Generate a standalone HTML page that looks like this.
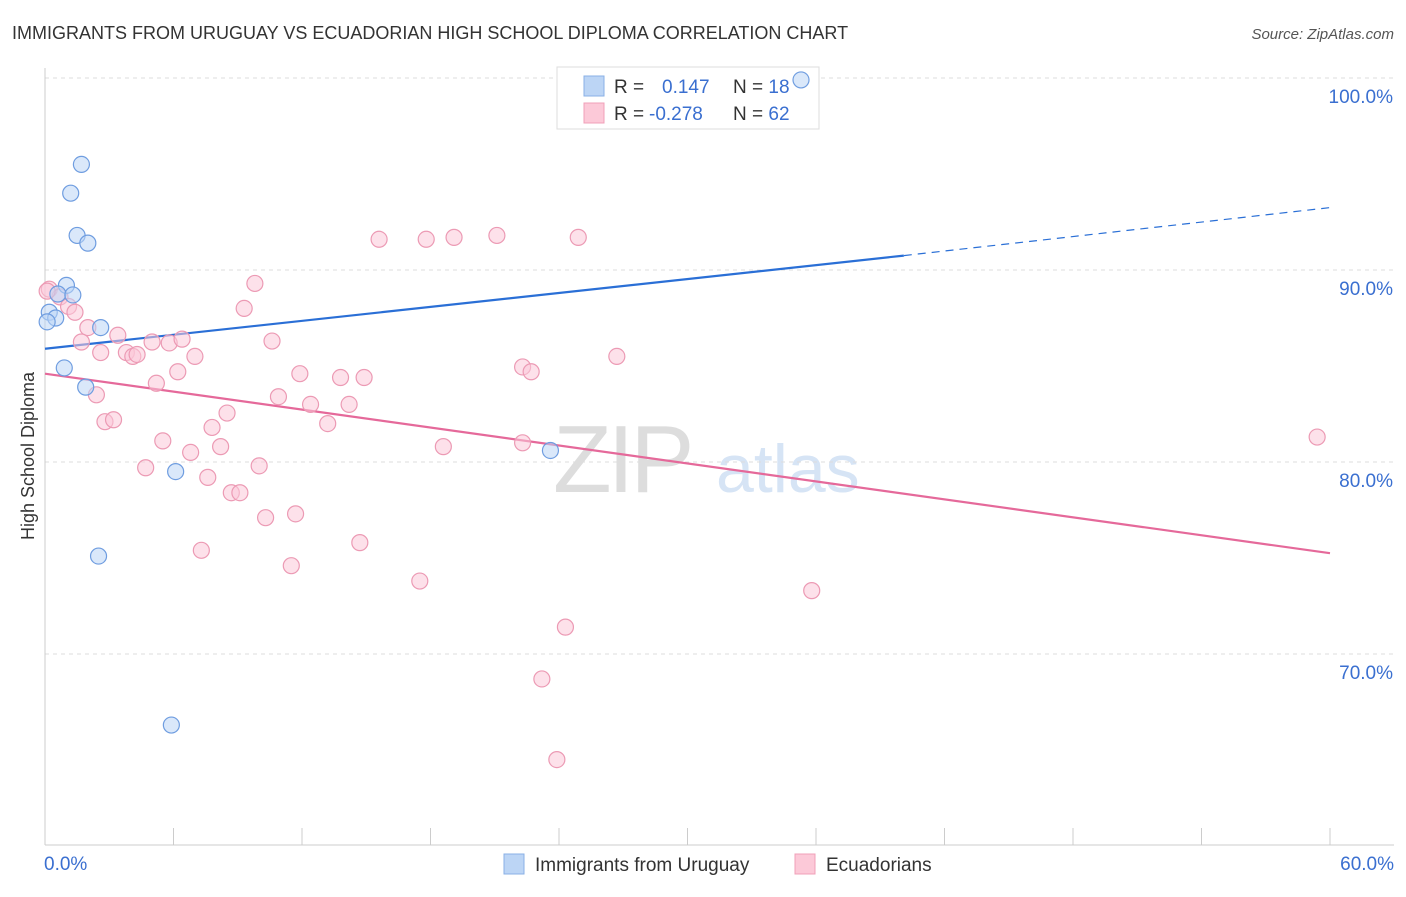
<!DOCTYPE html>
<html><head><meta charset="utf-8"><style>
body{margin:0;background:#fff;font-family:"Liberation Sans",sans-serif;}
svg text{font-family:"Liberation Sans",sans-serif;}
</style></head><body>
<svg id="chart" width="1406" height="892" viewBox="0 0 1406 892" xmlns="http://www.w3.org/2000/svg">
<text x="12" y="39" font-size="18" fill="#333">IMMIGRANTS FROM URUGUAY VS ECUADORIAN HIGH SCHOOL DIPLOMA CORRELATION CHART</text>
<text x="1394" y="39" font-size="15" fill="#555" text-anchor="end" font-style="italic">Source: ZipAtlas.com</text>
<text x="553" y="492" font-size="96" fill="#ddd" font-family="Liberation Serif" letter-spacing="-4">ZIP</text>
<text x="716" y="492" font-size="68" fill="#d6e4f5">atlas</text>
<g id="grid"></g>
<g id="axes"></g>
<g>
<rect x="557" y="67" width="262" height="62" fill="#fff" stroke="#ddd"/>
<rect x="584" y="76" width="20" height="20" fill="#bcd5f5" stroke="#8ab0e6"/>
<rect x="584" y="103" width="20" height="20" fill="#fcc9d8" stroke="#f0a0b8"/>
<text x="614" y="93" font-size="19" fill="#333">R = <tspan fill="#3a6fd0" x="662">0.147</tspan><tspan fill="#333" x="733">N = </tspan><tspan fill="#3a6fd0">18</tspan></text>
<text x="614" y="120" font-size="19" fill="#333">R = <tspan fill="#3a6fd0" x="649">-0.278</tspan><tspan fill="#333" x="733">N = </tspan><tspan fill="#3a6fd0">62</tspan></text>
</g>
<g id="lines"></g>
<g id="pts"></g>
<text transform="translate(34,456) rotate(-90)" font-size="18" fill="#333" text-anchor="middle">High School Diploma</text>
<g>
<rect x="504" y="854" width="20" height="20" fill="#bcd5f5" stroke="#8ab0e6"/>
<text x="535" y="871" font-size="19" fill="#333">Immigrants from Uruguay</text>
<rect x="795" y="854" width="20" height="20" fill="#fcc9d8" stroke="#f0a0b8"/>
<text x="826" y="871" font-size="19" fill="#333">Ecuadorians</text>
</g>
</svg>
<script>
const blueX=[35.3,1.7,1.2,1.5,2.0,1.0,0.6,1.3,0.2,0.5,0.1,2.6,0.9,1.9,6.1,23.6,2.5,5.9];
const blueY=[99.9,95.5,94.0,91.8,91.4,89.2,88.75,88.7,87.8,87.5,87.3,87.0,84.9,83.9,79.5,80.6,75.1,66.3];
const pinkX=[0.2,0.7,1.1,1.4,2.0,1.7,2.6,3.4,3.8,4.1,4.3,5.0,5.8,6.4,7.0,6.2,5.2,2.4,2.8,3.2,5.5,4.7,6.8,7.8,8.2,8.5,9.3,9.8,10.6,10.9,11.9,12.4,13.2,13.8,14.2,14.9,10.0,7.6,8.7,9.1,10.3,11.7,7.3,11.5,14.7,15.6,17.8,19.1,21.1,24.9,22.3,22.7,26.7,18.6,22.3,17.5,24.3,23.2,23.9,35.8,59.4,0.1];
const pinkY=[89.0,88.6,88.1,87.8,87.0,86.25,85.7,86.6,85.7,85.5,85.6,86.25,86.2,86.4,85.5,84.7,84.1,83.5,82.1,82.2,81.1,79.7,80.5,81.8,80.8,82.55,88.0,89.3,86.3,83.4,84.6,83.0,82.0,84.4,83.0,84.4,79.8,79.2,78.4,78.4,77.1,77.3,75.4,74.6,75.8,91.6,91.6,91.7,91.8,91.7,84.95,84.7,85.5,80.8,81.0,73.8,71.4,68.7,64.5,73.3,81.3,88.9];
const yTicks=[100,90,80,70];
const yTickLabels=["100.0%","90.0%","80.0%","70.0%"];
const xTickLabels=["0.0%","60.0%"];
const blueLine=[[0,85.9],[40.1,90.75],[60,93.25]];
const pinkLine=[[0,84.6],[60,75.25]];
const NS="http://www.w3.org/2000/svg";
const X=v=>45+v*1285/60, Y=v=>78+(100-v)*19.2;
function mk(t,a,p){const e=document.createElementNS(NS,t);for(const k in a)e.setAttribute(k,a[k]);p.appendChild(e);return e;}
const g=document.getElementById('grid'),ax=document.getElementById('axes'),ln=document.getElementById('lines'),pts=document.getElementById('pts');
yTicks.forEach((t,i)=>{
 const l=mk('line',{x1:45,x2:1394,y1:Y(t),y2:Y(t),stroke:'#ddd','stroke-dasharray':'4,4'},g);
 
 
 const tx=mk('text',{x:1393,y:Y(t)+25,'font-size':19,fill:'#3a6fd0','text-anchor':'end'},ax);
 tx.textContent=yTickLabels[i];
 
 
});
mk('line',{x1:45,x2:45,y1:68,y2:845,stroke:'#ccc'},ax);
mk('line',{x1:45,x2:1394,y1:845,y2:845,stroke:'#ccc'},ax);
for(let i=0;i<=10;i++){const x=X(i*6);const t=mk('line',{x1:x,x2:x,y1:828,y2:845,stroke:'#ccc'},ax);
 
 }
const xl0=mk('text',{x:44,y:870,'font-size':19,fill:'#3a6fd0'},ax);xl0.textContent=xTickLabels[0];


const xl1=mk('text',{x:1394,y:870,'font-size':19,fill:'#3a6fd0','text-anchor':'end'},ax);xl1.textContent=xTickLabels[1];


function circ(xs,ys,fill,stroke,name){xs.forEach((v,i)=>{const c=mk('circle',{cx:X(v),cy:Y(ys[i]),r:8,fill:fill,'fill-opacity':0.55,stroke:stroke,'stroke-width':1.2},pts);
 
 });}
circ(pinkX,pinkY,'#fcc9d8','#ec9ab4','ecuadorian-point');
circ(blueX,blueY,'#bcd5f5','#6f9de0','uruguay-point');
const b1=mk('line',{x1:X(blueLine[0][0]),y1:Y(blueLine[0][1]),x2:X(blueLine[1][0]),y2:Y(blueLine[1][1]),stroke:'#2a6fd6','stroke-width':2.2},ln);


const b2=mk('line',{x1:X(blueLine[1][0]),y1:Y(blueLine[1][1]),x2:X(blueLine[2][0]),y2:Y(blueLine[2][1]),stroke:'#2a6fd6','stroke-width':1.2,'stroke-dasharray':'8,6'},ln);


const p1=mk('line',{x1:X(pinkLine[0][0]),y1:Y(pinkLine[0][1]),x2:X(pinkLine[1][0]),y2:Y(pinkLine[1][1]),stroke:'#e5699a','stroke-width':2.2},ln);


</script>
</body></html>
